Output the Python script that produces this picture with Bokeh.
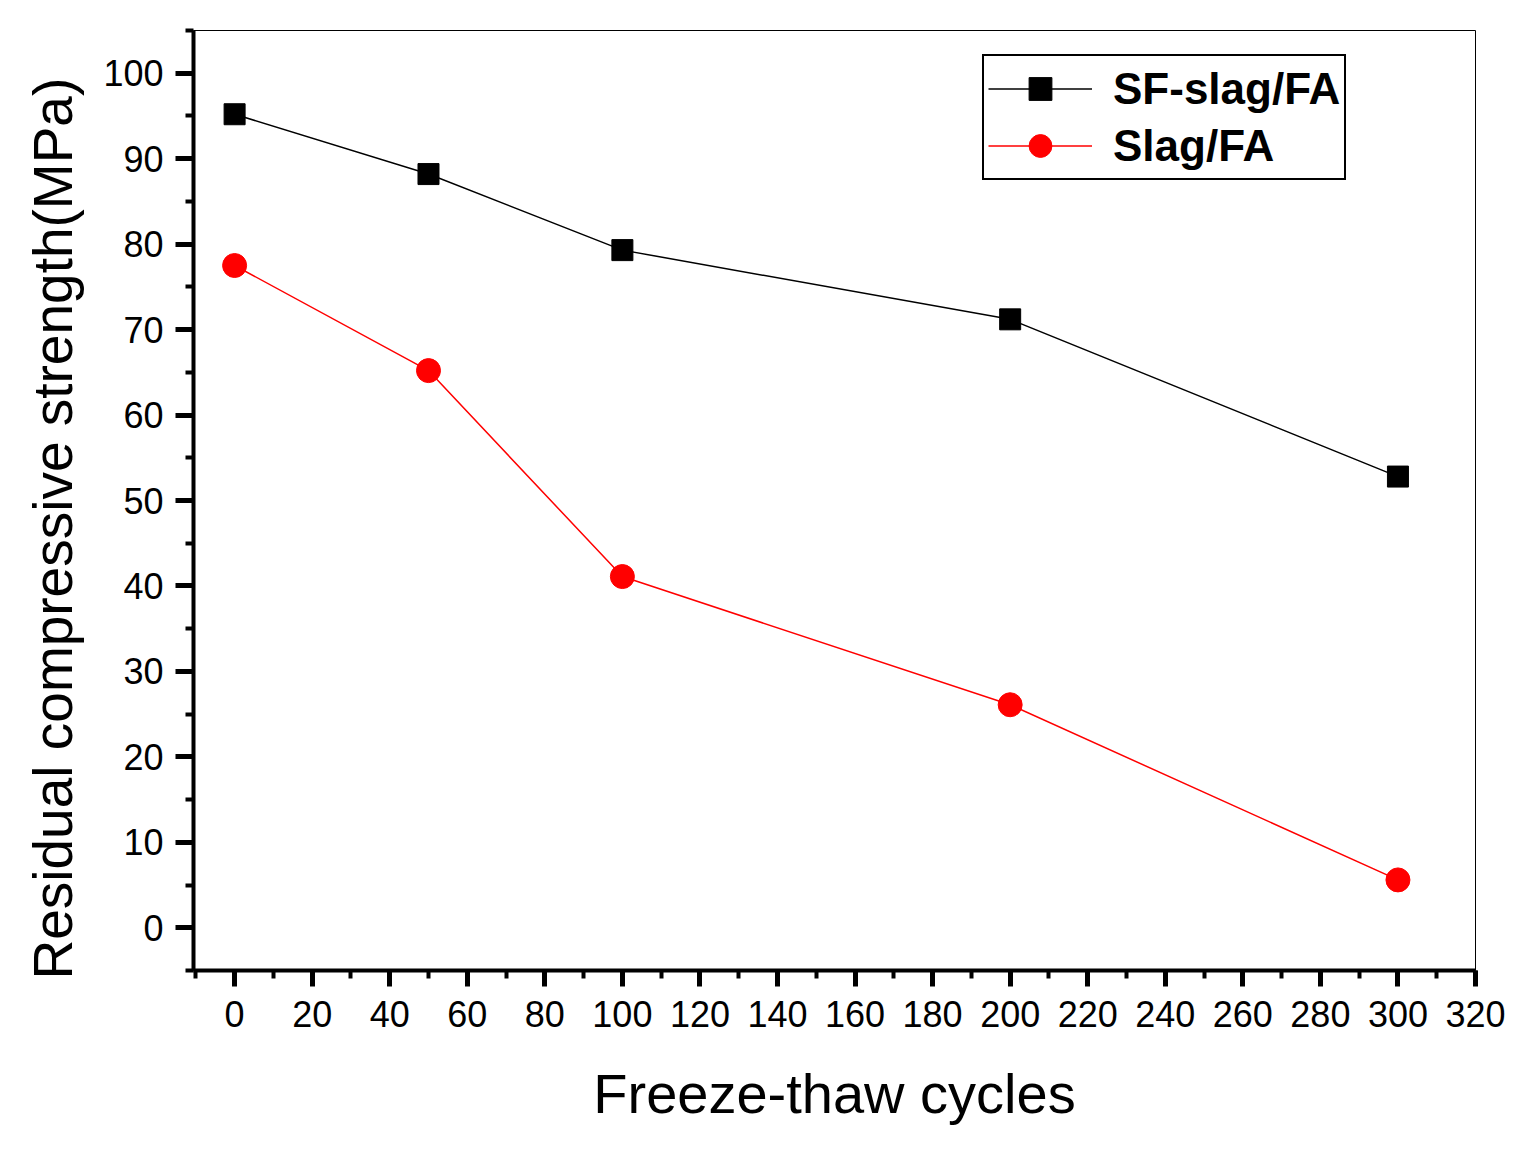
from bokeh.plotting import figure
from bokeh.models import ColumnDataSource, Range1d, SingleIntervalTicker, Legend, LegendItem, Title
from bokeh.embed import file_html
from bokeh.resources import INLINE

# data
cycles = [0, 50, 100, 200, 300]
sf_slag_fa = [95.2, 88.2, 79.3, 71.2, 52.8]
slag_fa = [77.5, 65.2, 41.1, 26.1, 5.6]

src = ColumnDataSource(data=dict(x=cycles, sf=sf_slag_fa, slag=slag_fa))

FONT = "Liberation Sans"

p = figure(width=1511, height=1141, output_backend="svg", toolbar_location=None,
           x_range=Range1d(-10.6, 320), y_range=Range1d(-5, 105),
           min_border_left=193, min_border_right=36, min_border_top=30, min_border_bottom=171,
           x_axis_label="Freeze-thaw cycles")

p.background_fill_color = "white"
p.border_fill_color = "white"
p.outline_line_color = "black"
p.outline_line_width = 1
p.xgrid.visible = False
p.ygrid.visible = False

p.xaxis.ticker = SingleIntervalTicker(interval=20, num_minor_ticks=2)
p.yaxis.ticker = SingleIntervalTicker(interval=10, num_minor_ticks=2)

for ax in (p.xaxis[0], p.yaxis[0]):
    ax.axis_line_width = 4
    ax.major_tick_line_width = 5
    ax.minor_tick_line_width = 4
    ax.major_tick_in = 0
    ax.minor_tick_in = 0
    ax.minor_tick_out = 8
    ax.major_label_text_font = FONT
    ax.major_label_text_font_size = "36px"
    ax.major_label_text_color = "black"
    ax.axis_label_text_font = FONT
    ax.axis_label_text_font_style = "normal"
    ax.axis_label_text_color = "black"
    ax.axis_label_text_font_size = "56px"

p.xaxis.major_tick_out = 16
p.yaxis.major_tick_out = 18
p.xaxis.major_label_standoff = 14
p.yaxis.major_label_standoff = 12
p.xaxis.axis_label_standoff = 32

# y label as a side title so it can sit a little below the frame centre
ytitle = Title(text="Residual compressive strength(MPa)", align="left", offset=-9,
               standoff=32, vertical_align="middle",
               text_font=FONT, text_font_size="55px", text_font_style="normal",
               text_color="black")
p.add_layout(ytitle, "left")

l1 = p.line('x', 'sf', source=src, line_color="black", line_width=1.5)
m1 = p.scatter('x', 'sf', source=src, marker="square", size=21,
               fill_color="black", line_color="black")
l2 = p.line('x', 'slag', source=src, line_color="red", line_width=1.5)
m2 = p.scatter('x', 'slag', source=src, marker="circle", size=24,
               fill_color="red", line_color="red")

legend = Legend(items=[LegendItem(label="SF-slag/FA", renderers=[l1, m1]),
                       LegendItem(label="Slag/FA", renderers=[l2, m2])],
                location=(789, 790))
legend.label_text_font = FONT
legend.label_text_font_style = "bold"
legend.label_text_font_size = "44px"
legend.label_text_color = "black"
legend.label_height = 50
legend.glyph_height = 57
legend.glyph_width = 104
legend.label_standoff = 21
legend.spacing = 0
legend.padding = 4
legend.margin = 0
legend.border_line_color = "black"
legend.border_line_alpha = 1
legend.border_line_width = 2
legend.background_fill_alpha = 1
p.add_layout(legend)

open("out.html", "w").write(file_html(p, INLINE))
